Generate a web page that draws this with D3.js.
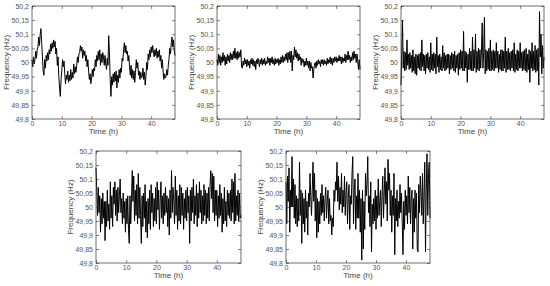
<!DOCTYPE html>
<html>
<head>
<meta charset="utf-8">
<script src="https://cdn.jsdelivr.net/npm/d3@7"></script>
<style>
  body { margin: 0; background: #fff; }
  svg { display: block; font-family: "Liberation Sans", Arial, sans-serif; }
</style>
</head>
<body>
<svg id="chart" width="550" height="286"></svg>
<script>
// deviation from 50 Hz in mHz, one sample every 15 min over 48 h (4 per hour)
var devA = [
  10, -15, 20, -5,   10, 40, 15, 45,
  55, 90, 60, 100,   120, 70, 20, -30,
  -45, 10, -20, 25,  5, 35, 10, 45,
  30, 65, 40, 70,    50, 80, 55, 75,
  30, 50, -10, 20,   -50, -90, -120, -60,
  -30, 10, -15, 5,   -40, -75, -45, -60,
  -30, -70, -45, -65, -25, -60, -35, -55,
  -5, -40, -15, -35, -10, 20, 0, 30,
  35, 60, 40, 55,    15, 45, 25, 40,
  5, 25, -15, 10,    -30, -60, -40, -75,
  -55, -25, -50, -20, -30, 10, -15, 25,
  5, 40, 10, 45,     -10, 30, 0, 35,
  20, -10, 25, -5,   -25, 15, -10, 95,
  30, -60, -120, -50, -80, -40, -70, -35,
  -65, -30, -90, -45, -70, -25, -55, -20,
  -35, 15, 5, 45,    70, 35, 60, 30,
  40, 5, 25, -15,    -45, -10, -55, -25,
  -60, -30, -70, -35, 10, -20, 0, -45,
  -30, -60, -35, -55, -50, -20, -60, -35,
  -80, -50, 0, -25,  30, 10, 45, 20,
  55, 35, 60, 40,    20, 45, 25, 50,
  15, 40, 20, 45,    5, 25, -20, 10,
  -30, -60, -40, -55, -50, -25, -45, -10,
  15, 50, 30, 70,    90, 55, 80, 40,
  25
];
var devB = [
  10, -10, 30, 0,    25, -10, 20, 0,
  35, 5, 25, -10,    20, -5, 30, 5,
  25, 0, 35, 10,     30, 10, 40, 15,
  50, 15, 35, 10,    40, 15, 35, 20,
  45, -15, -20, 5,   -10, 15, -5, 10,
  -15, 10, -10, 5,   -20, 10, -5, 15,
  -10, 10, -15, 5,   -25, 10, -5, 15,
  0, -15, 10, -5,    15, -10, 10, -5,
  15, -10, 5, -5,    20, 0, 15, -10,
  15, 0, 20, -5,     10, -10, 15, -5,
  10, 0, 15, -10,    10, -5, 20, 0,
  25, 0, 20, 5,      30, 10, 35, 0,
  35, 10, 40, 0,     40, -30, 25, 10,
  55, 20, 45, 15,    35, 5, 30, 10,
  20, -10, 15, 0,    10, -15, 5, -10,
  15, -10, 5, -20,   5, -30, 0, -20,
  -15, -55, -25, -5, 0, -20, 5, -10,
  10, -5, 5, -15,    10, -5, 10, -10,
  10, -5, 5, -10,    15, -5, 10, 0,
  20, -5, 15, -10,   15, 0, 20, 5,
  20, 0, 15, 5,      25, 5, 20, -5,
  20, 0, 15, 5,      30, 0, 25, 10,
  40, 10, 25, 0,     20, 5, 35, 10,
  40, 15, 30, 0,     30, 5, -25, 10,
  -25
];
var devC = [
  -80, 30, 150, -20, 40, -30, 35, -25,
  80, -10, 30, -25,  35, -20, 25, -35,
  45, -30, 20, -40,  30, -45, 25, -20,
  30, -25, 35, -30,  80, -15, 30, -30,
  25, -40, 30, -20,  35, -25, 20, -35,
  70, -25, 30, -30,  35, -20, 30, -40,
  90, -15, 25, -35,  30, -25, 20, -30,
  60, -20, 35, -30,  25, -25, 30, -20,
  30, -40, 25, -25,  35, -20, 30, -30,
  40, -35, 25, -20,  30, -45, 35, -25,
  45, -20, 40, -30,  110, -30, 40, -20,
  35, -70, 30, -25,  50, -25, 40, -30,
  90, -30, 45, -20,  100, -35, 40, -25,
  50, -30, 45, -20,  40, 140, -20, 35,
  160, -40, 45, -30, 40, -25, 50, -30,
  80, -30, 40, -25,  45, -30, 40, -20,
  70, -20, 40, -35,  30, -25, 45, -30,
  45, -30, 40, -20,  90, -35, 40, -25,
  50, -25, 35, -30,  40, -20, 45, -30,
  70, -35, 30, -25,  45, -30, 40, -20,
  70, -20, 35, -30,  40, -25, 45, -30,
  50, -35, 30, -25,  45, -70, 40, -20,
  70, -30, 40, -25,  60, -35, 45, -30,
  50, -80, 180, 20,  100, -40, 60, -20,
  20
];
var devD = [
  140, 60, -30, 70,  -20, 40, -90, 30,
  -60, 50, -40, 20,  -120, 20, -70, 60,
  -50, 10, -80, 90,  -40, 40, -70, 70,
  10, 90, -30, 60,   -50, 70, -20, 40,
  100, -20, 30, -60, 50, -40, 20, -90,
  30, -60, 40, -80,  -130, 40, -60, 30,
  130, 20, 110, -50, 60, -30, 80, -60,
  120, -40, 70, -30, -130, 40, -70, 50,
  -40, 80, -90, 20,  -110, 30, -60, 60,
  -80, 80, -20, 50,  -70, 30, -50, 70,
  -60, 90, -10, 60,  -80, 20, 90, -40,
  40, -60, 50, -30,  70, -20, 40, -70,
  30, -100, 60, -40, 130, -20, 70, 20,
  -60, 110, -30, 60, -80, 40, -50, 80,
  -60, 70, -30, 50,  -80, 30, -40, 60,
  -50, 70, -20, 40,  -130, 60, -50, 70,
  -20, 100, -60, 40, -30, 80, -70, 50,
  -40, 90, -20, 60,  -60, 40, -50, 80,
  -30, 60, -60, 50,  -40, 70, -50, 80,
  130, 30, 120, -20, 110, -50, 60, -30,
  60, -70, 40, -40,  80, -30, 50, -90,
  30, -60, 70, -50,  20, -70, 60, -30,
  50, -40, 60, -50,  100, -20, 90, -60,
  120, -50, 40, -30, 60, -50, 50, -40,
  -30
];
var devE = [
  90, -60, 110, 20,  140, -90, 60, 0,
  180, 0, 100, -40,  80, -60, 40, -70,
  30, -50, 160, -30, 60, -130, 50, -60,
  30, -90, 60, -40,  20, -100, 50, 0,
  120, 40, -30, 60,  160, 20, 120, -50,
  60, -110, 30, -90, 20, -60, 50, -30,
  80, -20, 40, -50,  30, 70, -40, 20,
  60, -60, 30, -50,  -30, -100, -40, -70,
  60, 20, 90, 60,    160, 20, 110, -10,
  70, 10, 120, -20,  60, 0, 110, -30,
  50, 90, -60, 30,   80, -80, 40, 10,
  120, 180, -60, 60, 100, -80, 40, -40,
  120, -40, 60, -90, 30, -190, 60, -150,
  20, -80, 120, 40,  80, 180, -20, 40,
  -70, 90, -160, 10, -60, 30, -50, 60,
  -80, 40, -40, 100, -30, 20, 60, -70,
  40, 110, -40, 50,  140, 10, 90, -50,
  170, 60, 120, -30, 60, -90, 40, -30,
  120, -170, 30, -50, 60, -70, 20, -40,
  80, -20, 50, -60,  -170, 20, -80, 60,
  -30, 40, -60, 110, -20, 70, -60, 30,
  60, -150, 30, -90, 60, -40, 50, -150,
  -160, 80, -20, 110, 50, -30, 120, -60,
  40, 160, -160, 60, 190, -30, 120, 160,
  -40
];

var sampleStep = 0.25; // hours between samples
var xTicks = [0, 10, 20, 30, 40];
var yTicks = [49.8, 49.85, 49.9, 49.95, 50, 50.05, 50.1, 50.15, 50.2];

var panels = [
  {dev: devA, x: 32, y: 6, w: 143, h: 113},
  {dev: devB, x: 217, y: 6, w: 143, h: 113},
  {dev: devC, x: 401, y: 6, w: 143, h: 113},
  {dev: devD, x: 96, y: 151, w: 145, h: 112},
  {dev: devE, x: 286, y: 151, w: 144, h: 112}
];

var svg = d3.select('#chart');
var fmt = function(d) { return d3.format('.2~f')(d).replace('.', ','); };

panels.forEach(function(p) {
  var g = svg.append('g').attr('transform', 'translate(' + p.x + ',' + p.y + ')');
  var x = d3.scaleLinear().domain([0, 48]).range([0, p.w]);
  var y = d3.scaleLinear().domain([49.8, 50.2]).range([p.h, 0]);

  var pts = p.dev.map(function(d, i) { return {t: i * sampleStep, f: 50 + d / 1000}; });

  g.append('path')
    .datum(pts)
    .attr('fill', 'none')
    .attr('stroke', '#000')
    .attr('stroke-width', 1)
    .attr('stroke-linejoin', 'round')
    .attr('d', d3.line().x(function(d) { return x(d.t); }).y(function(d) { return y(d.f); }));

  // inward ticks on all four sides, matlab style
  var axes = [
    {ax: d3.axisBottom(x).tickValues(xTicks).tickFormat(d3.format('d')).tickPadding(2), tr: [0, p.h]},
    {ax: d3.axisTop(x).tickValues(xTicks).tickFormat(''), tr: [0, 0]},
    {ax: d3.axisLeft(y).tickValues(yTicks).tickFormat(fmt).tickPadding(3), tr: [0, 0]},
    {ax: d3.axisRight(y).tickValues(yTicks).tickFormat(''), tr: [p.w, 0]}
  ];
  axes.forEach(function(a) {
    var ag = g.append('g')
      .attr('transform', 'translate(' + a.tr[0] + ',' + a.tr[1] + ')')
      .call(a.ax.tickSizeInner(-3).tickSizeOuter(0));
    ag.select('.domain').remove();
    ag.selectAll('line').attr('stroke', '#333').attr('stroke-width', 0.6);
    ag.selectAll('text').attr('font-size', 7).attr('fill', '#555')
      .attr('font-family', '"Liberation Sans", Arial, sans-serif');
  });

  g.append('rect')
    .attr('width', p.w).attr('height', p.h)
    .attr('fill', 'none').attr('stroke', '#333').attr('stroke-width', 0.7);

  g.append('text')
    .attr('x', p.w / 2).attr('y', p.h + 14.5)
    .attr('text-anchor', 'middle')
    .attr('font-size', 8).attr('fill', '#444')
    .text('Time (h)');

  g.append('text')
    .attr('transform', 'translate(-23,' + (p.h / 2) + ') rotate(-90)')
    .attr('text-anchor', 'middle')
    .attr('font-size', 8).attr('fill', '#444')
    .text('Frequency (Hz)');
});
</script>
</body>
</html>
